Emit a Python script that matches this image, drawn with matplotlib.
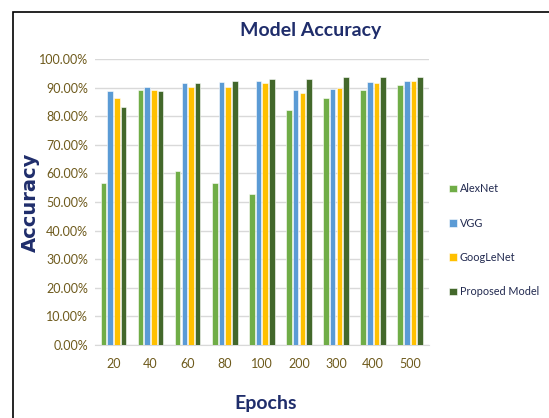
import matplotlib
matplotlib.use("Agg")
import matplotlib.pyplot as plt
from matplotlib.patches import Rectangle
from matplotlib.ticker import FuncFormatter
import numpy as np

epochs = ["20", "40", "60", "80", "100", "200", "300", "400", "500"]
alexnet = [56.7, 89.2, 60.9, 56.7, 52.9, 82.2, 86.5, 89.2, 90.9]
vgg = [88.7, 90.3, 91.5, 91.9, 92.4, 89.2, 89.7, 91.9, 92.5]
googlenet = [86.5, 89.2, 90.3, 90.3, 91.5, 88.2, 89.8, 91.5, 92.5]
proposed = [83.4, 88.7, 91.5, 92.4, 93.0, 93.0, 93.6, 93.6, 93.6]
series_names = ["AlexNet", "VGG", "GoogLeNet", "Proposed Model"]
colors = ["#70AD47", "#5B9BD5", "#FFC000", "#43682B"]

plt.rcParams['font.family'] = ['Lato', 'DejaVu Sans']

fig = plt.figure(figsize=(5.49, 4.18), dpi=100)
ax = fig.add_axes([0.173, 0.1746, 0.608, 0.684])

x = np.arange(len(epochs))
step = 0.18
width = 0.15
all_series = [alexnet, vgg, googlenet, proposed]
handles = []
for i, (vals, c, name) in enumerate(zip(all_series, colors, series_names)):
    b = ax.bar(x + (i - 1.5) * step, vals, width=width, color=c,
               edgecolor='white', linewidth=0.4, label=name, zorder=3)
    handles.append(b)

ax.set_xlim(-0.5, len(epochs) - 0.5)
ax.set_ylim(0, 100)
ax.set_yticks(np.arange(0, 101, 10))
ax.yaxis.set_major_formatter(FuncFormatter(lambda v, p: f"{v:.2f}%"))
ax.set_xticks(x)
ax.set_xticklabels(epochs)
ax.grid(axis='y', color='#d9d9d9', linewidth=1, zorder=0)
for s in ['top', 'right', 'left']:
    ax.spines[s].set_visible(False)
ax.spines['bottom'].set_color('#d9d9d9')
ax.tick_params(axis='both', length=0, labelsize=9, labelcolor='#6e5a1c')
ax.tick_params(axis='x', pad=9)
ax.tick_params(axis='y', pad=5)

fig.text(0.565, 0.926, "Model Accuracy", ha='center', va='center',
         fontsize=14, fontweight='bold', color='#1f2d6b')
fig.text(0.483, 0.035, "Epochs", ha='center', va='center',
         fontsize=14, fontweight='bold', color='#1f2d6b')
fig.text(0.055, 0.517, "Accuracy", ha='center', va='center', rotation=90,
         fontsize=14, fontweight='bold', color='#1f2d6b',
         family=['DejaVu Sans'])

leg = fig.legend(handles=handles, labels=series_names, loc='center left',
                 bbox_to_anchor=(0.80, 0.425), frameon=False, fontsize=7.8,
                 handlelength=0.7, handleheight=0.7, handletextpad=0.3,
                 labelspacing=2.15)
for t in leg.get_texts():
    t.set_color('#222a50')

fig.patches.append(Rectangle((13 / 549, -0.05), 1.1, 1 - 12 / 418 + 0.05,
                             transform=fig.transFigure, fill=False,
                             edgecolor='black', linewidth=1.2))

fig.savefig("out.png", dpi=100)
